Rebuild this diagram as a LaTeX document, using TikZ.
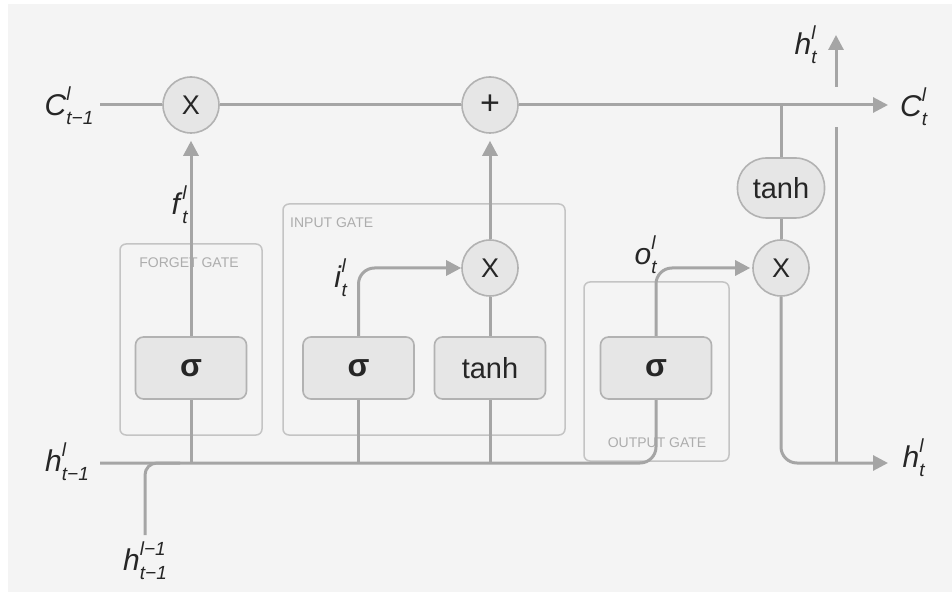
\documentclass[tikz,border=0pt]{standalone}
\usepackage{fontspec}
\setmainfont{Liberation Sans}
\usetikzlibrary{arrows.meta}
\pgfdeclarelayer{paper}
\pgfdeclarelayer{gates}
\pgfdeclarelayer{wires}
\pgfsetlayers{paper,gates,wires,main}

\definecolor{paper}{HTML}{F4F4F4}
\definecolor{wirec}{HTML}{A5A5A5}
\definecolor{gatec}{HTML}{C4C4C4}
\definecolor{gatetxt}{HTML}{ADADAD}
\definecolor{opfill}{HTML}{E6E6E6}
\definecolor{opline}{HTML}{B2B2B2}
\definecolor{ink}{HTML}{262626}

% variable with superscript layer index and subscript time index
\newcommand\lstmvar[3]{\textit{#1}\rlap{\raisebox{0.50em}{\fontsize{19}{19}\selectfont\textit{#2}}}\raisebox{-0.30em}{\fontsize{19}{19}\selectfont\textit{#3}}}
\newcommand\sig{{\fontsize{32}{32}\selectfont\textbf{σ}}}

\begin{document}
\begin{tikzpicture}[x=1pt,y=-1pt,
  wire/.style={draw=wirec, line width=3pt},
  arr/.style={-{Triangle[length=15pt,width=15pt]}},
  op/.style={circle, draw=opline, line width=1.6pt, fill=opfill, minimum size=56pt,
    inner sep=0pt, text=ink, font=\fontsize{27}{27}\selectfont},
  act/.style={rectangle, rounded corners=8pt, draw=opline, line width=1.6pt, fill=opfill,
    minimum width=111pt, minimum height=62pt, inner sep=0pt, text=ink,
    font=\fontsize{29}{29}\selectfont},
  gatebox/.style={rectangle, rounded corners=6pt, draw=gatec, line width=1.5pt, inner sep=0pt},
  gatename/.style={text=gatetxt, font=\fontsize{14}{14}\selectfont, inner sep=0pt},
  varlabel/.style={text=ink, font=\fontsize{30}{30}\selectfont, inner sep=0pt}
]
\useasboundingbox (0,0) rectangle (952,593);
\begin{pgfonlayer}{paper}
\fill[white] (0,0) rectangle (952,593);
\fill[paper] (8,4) rectangle (952,592);
\end{pgfonlayer}

% gate frames
\begin{pgfonlayer}{gates}
\node[gatebox, minimum width=142pt, minimum height=191pt] (fgate) at (191,339.5) {};
\node[gatebox, minimum width=282pt, minimum height=231pt] (igate) at (424,319.5) {};
\node[gatebox, minimum width=145pt, minimum height=179pt] (ogate) at (656.5,371.5) {};
\node[gatename] (fname) at (189,263) {FORGET GATE};
\node[gatename, anchor=west] (iname) at (290,223) {INPUT GATE};
\node[gatename] (oname) at (657,443) {OUTPUT GATE};
\end{pgfonlayer}

% operations
\node[op] (mf) at (191,105) {X};
\node[op, font=\fontsize{34}{34}\selectfont] (add) at (490,105) {+};
\node[op] (mi) at (490,268) {X};
\node[op] (mo) at (781,268) {X};
\node[act] (sf) at (191,368) {\sig};
\node[act] (si) at (358.5,368) {\sig};
\node[act] (ti) at (490,368) {tanh};
\node[act] (so) at (656,368) {\sig};
\node[act, rounded corners=29pt, minimum width=87pt, minimum height=60pt] (tc) at (781,188) {tanh};

% labels
\node[varlabel] (cprev) at (69,106) {\lstmvar{C}{l}{t−1}};
\node[varlabel] (hprev) at (67,462) {\lstmvar{h}{l}{t−1}};
\node[varlabel] (hbelow) at (145,561) {\lstmvar{h}{l−1}{t−1}};
\node[varlabel] (flab) at (180,205) {\lstmvar{f}{l}{t}};
\node[varlabel] (ilab) at (341,278) {\lstmvar{i}{l}{t}};
\node[varlabel] (olab) at (646,255) {\lstmvar{o}{l}{t}};
\node[varlabel] (cnext) at (914,107) {\lstmvar{C}{l}{t}};
\node[varlabel] (hnext) at (914,458) {\lstmvar{h}{l}{t}};
\node[varlabel] (hup) at (806,45) {\lstmvar{h}{l}{t}};

% wire end points
\coordinate (cs) at (100,105);
\coordinate (ce) at (888,105);
\coordinate (hs) at (100,463);
\coordinate (he) at (888,463);
\coordinate (hb) at (145,535);
\coordinate (hbj) at (180,463);
\coordinate (ctap) at (781,105);
\coordinate (hj) at (836,463);
\coordinate (hgap) at (836,127);
\coordinate (hgo) at (836,87);
\coordinate (htop) at (836,35);

\begin{pgfonlayer}{wires}
% cell state
\draw[wire] (cs) -- (mf) -- (add);
\draw[wire,arr] (add) -- (ce);
% hidden state input bus
\draw[wire, rounded corners=16pt] (hs) -| (so.south);
\draw[wire, rounded corners=12pt] (hb) |- (hbj);
\draw[wire] (sf.south) -- (sf.south |- hs);
\draw[wire] (si.south) -- (si.south |- hs);
\draw[wire] (ti.south) -- (ti.south |- hs);
% forget gate
\draw[wire,arr,shorten >=7pt] (sf.north) -- (mf.south);
% input gate
\draw[wire,arr,rounded corners=16pt] (si.north) |- (mi.west);
\draw[wire] (ti.north) -- (mi.south);
\draw[wire,arr,shorten >=7pt] (mi.north) -- (add.south);
% output gate
\draw[wire,arr,rounded corners=16pt,shorten >=2pt] (so.north) |- (mo.west);
\draw[wire] (ctap) -- (tc.north);
\draw[wire] (tc.south) -- (mo.north);
\draw[wire,arr,rounded corners=16pt] (mo.south) |- (he);
\draw[wire] (hj) -- (hgap);
\draw[wire,arr] (hgo) -- (htop);
\end{pgfonlayer}
\end{tikzpicture}
\end{document}
